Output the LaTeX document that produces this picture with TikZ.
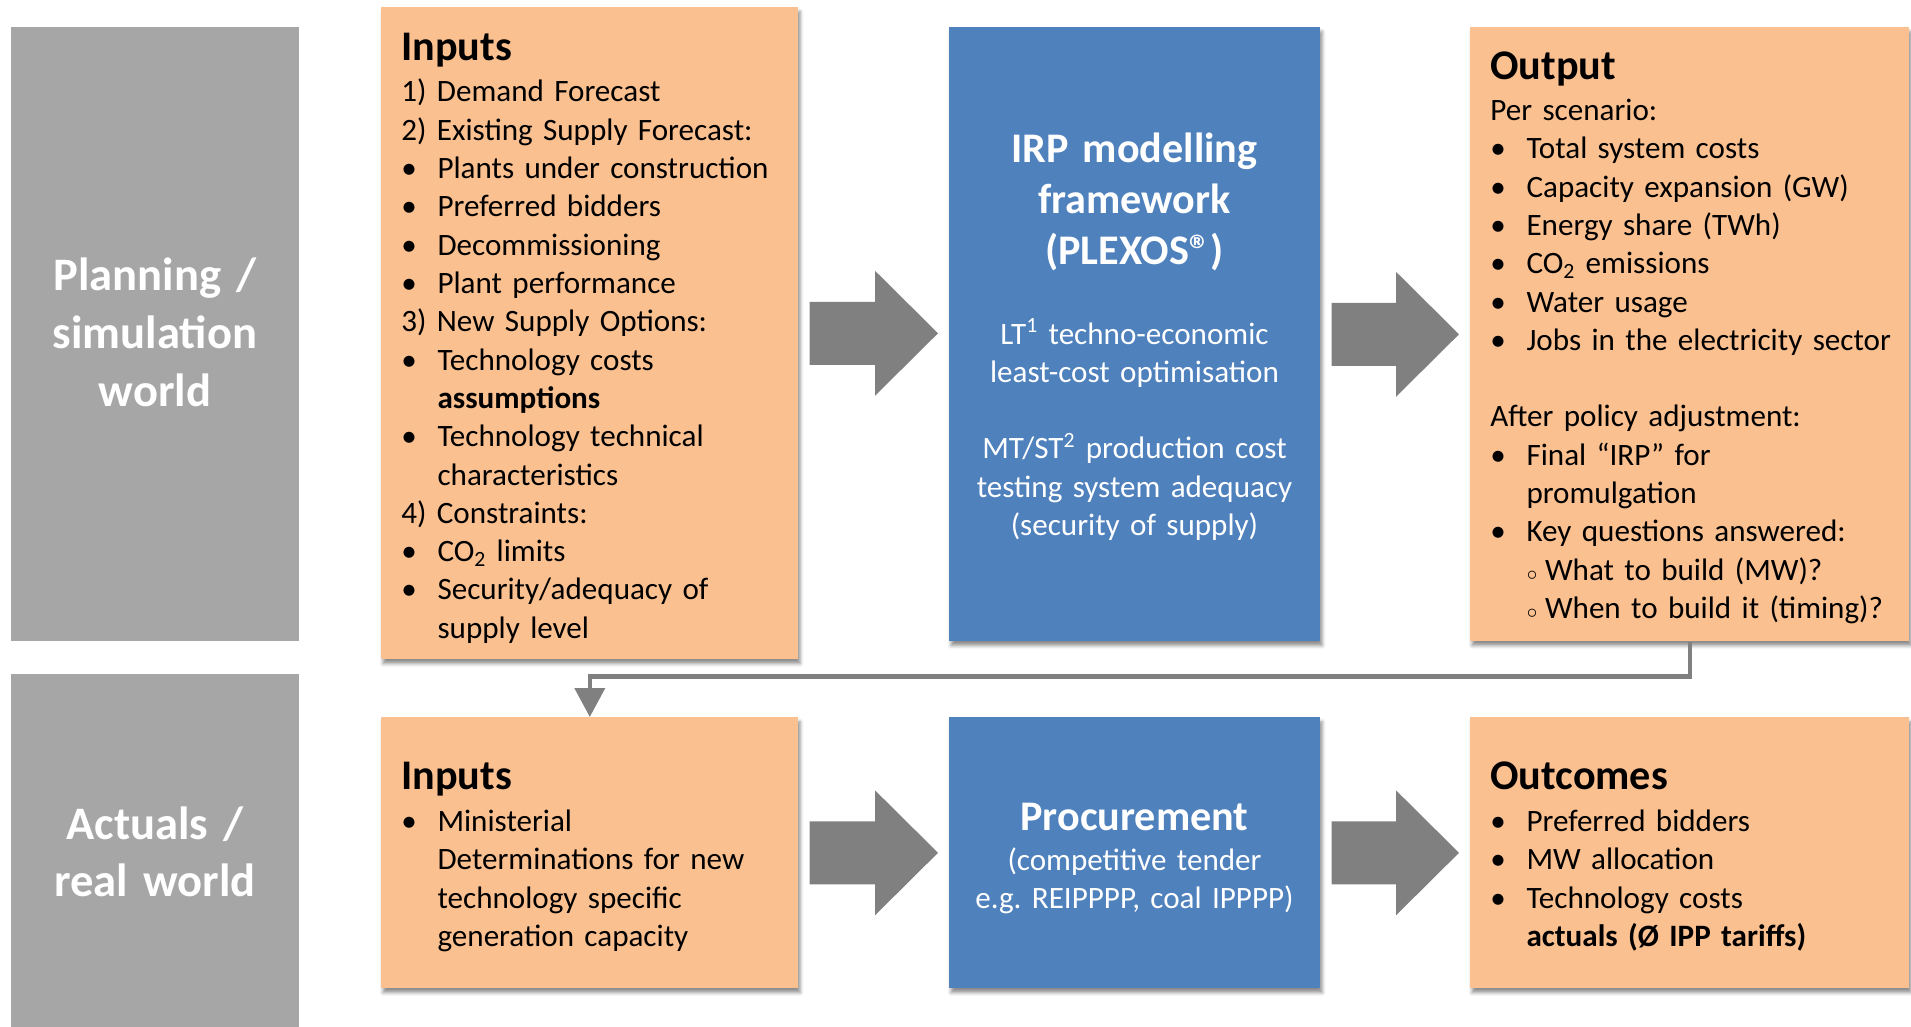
\documentclass[tikz,border=0pt]{standalone}
\usepackage{fontspec}
\setmainfont{Carlito}
\usetikzlibrary{positioning,calc,arrows.meta,shadows.blur}
\frenchspacing

\definecolor{plangray}{HTML}{A6A6A6}
\definecolor{inorange}{HTML}{FAC090}
\definecolor{irpblue}{HTML}{4F81BD}
\definecolor{arrowgray}{HTML}{808080}

\newcommand{\bul}{\makebox[20.6pt][l]{\textbullet}}
\newcommand{\cont}{\hspace*{20.6pt}}
\newcommand{\subbul}{\hspace*{20.8pt}\makebox[10.3pt][l]{$\scriptstyle\circ$}}

\tikzset{
  worldbox/.style={rectangle, fill=plangray, anchor=north west, inner sep=0pt},
  orangebox/.style={rectangle, fill=inorange, anchor=north west, inner sep=0pt,
    blur shadow={shadow xshift=1pt, shadow yshift=-2.5pt, shadow blur radius=2pt, shadow opacity=45}},
  bluebox/.style={orangebox, fill=irpblue},
  worldtext/.style={anchor=base, inner sep=0pt, text width=5.5cm, align=center, text=white,
    font=\fontsize{26.5}{32.8}\selectfont\bfseries},
  headtext/.style={anchor=base west, inner sep=0pt, font=\fontsize{24}{28.9}\selectfont\bfseries},
  bodytext/.style={anchor=base west, inner sep=0pt, text width=9cm, align=left,
    font=\fontsize{17.7}{21.8}\selectfont},
  bluehead/.style={anchor=base, inner sep=0pt, text width=7cm, align=center, text=white,
    font=\fontsize{24}{28.9}\selectfont\bfseries},
  bluebody/.style={bluehead, font=\fontsize{17.7}{21.8}\selectfont},
  blockarrow/.style={fill=arrowgray},
  connector/.style={draw=arrowgray, line width=2.6pt, -{Triangle[width=17pt,length=16.5pt]}}
}

\begin{document}
\begin{tikzpicture}[x=0.02cm,y=-0.02cm]
  \useasboundingbox (0,0) rectangle (1911,1027);

  % boxes
  \node[worldbox, minimum width=5.76cm, minimum height=12.28cm] (plan) at (11,27) {};
  \node[worldbox, minimum width=5.76cm, minimum height=7.06cm] (real) at (11,674) {};
  \node[orangebox, minimum width=8.34cm, minimum height=13.04cm] (in1) at (381,7) {};
  \node[bluebox, minimum width=7.42cm, minimum height=12.28cm] (irp) at (949,27) {};
  \node[orangebox, minimum width=8.78cm, minimum height=12.28cm] (out1) at (1470,27) {};
  \node[orangebox, minimum width=8.34cm, minimum height=5.42cm] (in2) at (381,717) {};
  \node[bluebox, minimum width=7.42cm, minimum height=5.42cm] (proc) at (949,717) {};
  \node[orangebox, minimum width=8.78cm, minimum height=5.42cm] (outc) at (1470,717) {};

  % world labels
  \node[worldtext] (plantext) at (155,291) {Planning /\\simulation\\world};
  \node[worldtext] (realtext) at (155,839) {Actuals /\\real world};

  % planning row
  \node[headtext] (in1head) at (401,61) {Inputs};
  \node[bodytext] (in1body) at (401,102) {1) Demand Forecast\\
    2) Existing Supply Forecast:\\
    \bul Plants under construction\\
    \bul Preferred bidders\\
    \bul Decommissioning\\
    \bul Plant performance\\
    3) New Supply Options:\\
    \bul Technology costs\\
    \cont\textbf{assumptions}\\
    \bul Technology technical\\
    \cont characteristics\\
    4) Constraints:\\
    \bul CO\textsubscript{2} limits\\
    \bul Security/adequacy of\\
    \cont supply level};

  \node[bluehead] (irphead) at (1134.5,163) {IRP modelling\\framework\\(PLEXOS®)};
  \node[bluebody] (irpbody) at (1134.5,344) {LT\textsuperscript{1} techno-economic\\
    least-cost optimisation\\[21.8pt]
    MT/ST\textsuperscript{2} production cost\\
    testing system adequacy\\
    (security of supply)};

  \node[headtext] (out1head) at (1490,80) {Output};
  \node[bodytext] (out1body) at (1490,120.5) {Per scenario:\\
    \bul Total system costs\\
    \bul Capacity expansion (GW)\\
    \bul Energy share (TWh)\\
    \bul CO\textsubscript{2} emissions\\
    \bul Water usage\\
    \bul Jobs in the electricity sector\\[21.8pt]
    After policy adjustment:\\
    \bul Final “IRP” for\\
    \cont promulgation\\
    \bul Key questions answered:\\
    \subbul What to build (MW)?\\
    \subbul When to build it (timing)?};

  % actuals row
  \node[headtext] (in2head) at (401,789) {Inputs};
  \node[bodytext] (in2body) at (401,831.5) {\bul Ministerial\\
    \cont Determinations for new\\
    \cont technology specific\\
    \cont generation capacity};

  \node[bluehead] (prochead) at (1134.5,830) {Procurement};
  \node[bluebody] (procbody) at (1134.5,870) {(competitive tender\\e.g. REIPPPP, coal IPPPP)};

  \node[headtext] (outchead) at (1490,789) {Outcomes};
  \node[bodytext] (outcbody) at (1490,831.5) {\bul Preferred bidders\\
    \bul MW allocation\\
    \bul Technology costs\\
    \cont\textbf{actuals (Ø IPP tariffs)}};

  % block arrows
  \foreach \a/\b in {in1/irp, irp/out1, in2/proc, proc/outc}{
    \coordinate (s) at ($(\a.east)+(11,0)$);
    \coordinate (t) at ($(\b.west |- \a.east)+(-11,0)$);
    \fill[blockarrow] ($(s)+(0,-31.5)$) -- ($(t)+(-63,-31.5)$) -- ($(t)+(-63,-62.5)$) -- (t)
      -- ($(t)+(-63,62.5)$) -- ($(t)+(-63,31.5)$) -- ($(s)+(0,31.5)$) -- cycle;
  }

  % feedback from output to actual inputs
  \draw[connector] (out1.south) -- ++(0,35) -| (in2.north);
\end{tikzpicture}
\end{document}
